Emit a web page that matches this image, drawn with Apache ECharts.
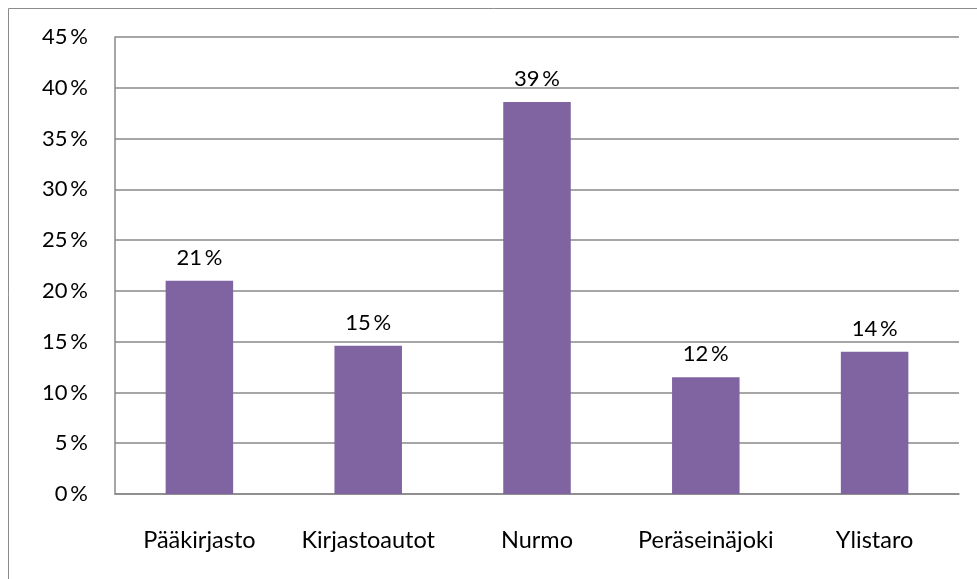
<!DOCTYPE html>
<html><head><meta charset="utf-8">
<script src="https://cdn.jsdelivr.net/npm/echarts@6/dist/echarts.min.js"></script>
<style>html,body{margin:0;padding:0;background:#fff}#c{width:977px;height:579px}</style>
</head><body><div id="c"></div>
<script>
const categories = ["Pääkirjasto", "Kirjastoautot", "Nurmo", "Peräseinäjoki", "Ylistaro"];
const values = [21.0, 14.6, 38.6, 11.5, 14.0];
const yMin = 0, yMax = 45, yStep = 5;

const chart = echarts.init(document.getElementById('c'), null, {renderer: 'canvas'});
const font = 'Lato, "Open Sans", sans-serif';
chart.setOption({
  animation: false,
  graphic: [{
    type: 'rect', shape: {x: 8.5, y: 8.5, width: 1200, height: 1200},
    style: {fill: 'none', stroke: '#8c8c8c', lineWidth: 1}, silent: true, z: -1
  }],
  grid: {left: 115, top: 37, right: 18, bottom: 85},
  xAxis: {
    type: 'category', data: categories,
    axisLine: {lineStyle: {color: '#888', width: 1.5}},
    axisTick: {show: false},
    axisLabel: {color: '#000', fontFamily: font, fontSize: 23.5, margin: 34, interval: 0}
  },
  yAxis: {
    type: 'value', min: yMin, max: yMax, interval: yStep,
    axisLine: {show: true, lineStyle: {color: '#888', width: 1.5}},
    axisTick: {show: false},
    splitLine: {lineStyle: {color: '#888', width: 1.5}},
    axisLabel: {color: '#000', fontFamily: font, fontSize: 22, margin: 27,
      formatter: v => v + '\u2009%'}
  },
  series: [{
    type: 'bar', data: values, barWidth: '40%',
    itemStyle: {color: '#8064A2'},
    label: {show: true, position: 'top', distance: 12, color: '#000',
      fontFamily: font, fontSize: 22,
      formatter: p => Math.round(p.value) + '\u2009%'}
  }]
});
</script></body></html>
